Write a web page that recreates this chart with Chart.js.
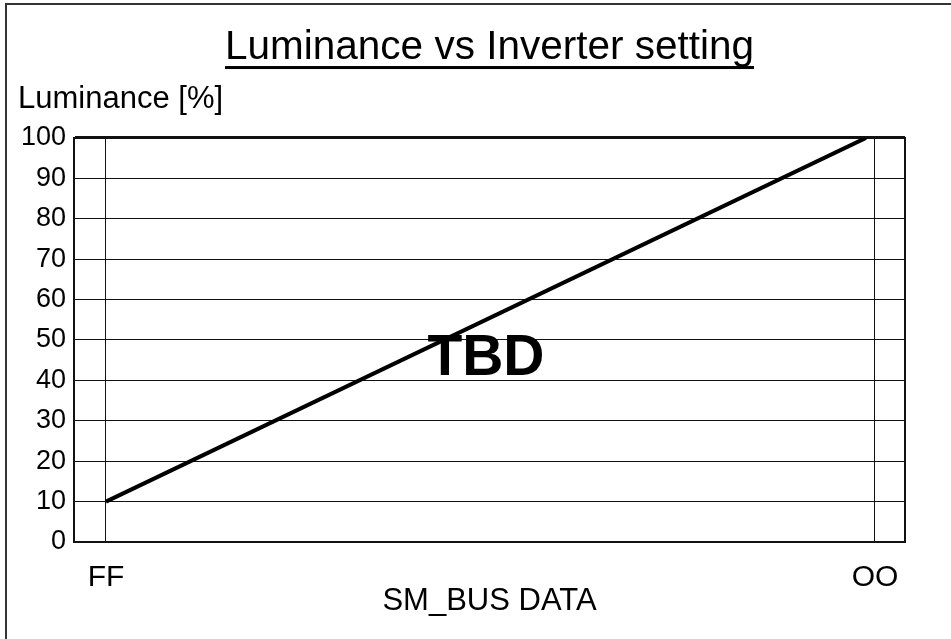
<!DOCTYPE html>
<html>
<head>
<meta charset="utf-8">
<title>Luminance vs Inverter setting</title>
<script src="https://cdn.jsdelivr.net/npm/chart.js@4.4.1/dist/chart.umd.min.js"></script>
<style>
  body { margin: 0; background: #fff; }
  .wrap { position: relative; width: 951px; height: 639px; }
  .frame {
    position: absolute; left: 5px; top: 3px; right: 0; bottom: 0;
    border-top: 2px solid #333; border-left: 2px solid #333;
    pointer-events: none;
  }
  canvas { display: block; }
</style>
</head>
<body>
<div class="wrap">
  <canvas id="chartLum" width="951" height="639"></canvas>
  <div class="frame"></div>
</div>
<script>
// data
const busTicks = [255, 0];
const busTickLabels = ["FF", "OO"];
const busData = [255, 3];
const luminance = [10, 100];
const tbdNote = { x: 129, y: 45.3, text: "TBD" };

const FONT = "'Liberation Sans', Arial, Helvetica, sans-serif";
const INK = "#111";
const titleSize = 40.5;
const titlePad = { top: 23.7, bottom: 8.5 };

// underline under the chart title
const titleUnderline = {
  id: "titleUnderline",
  afterDraw(chart) {
    const tb = chart.titleBlock;
    if (!tb) return;
    const ctx = chart.ctx;
    ctx.save();
    ctx.font = titleSize + "px " + FONT;
    const w = ctx.measureText(tb.options.text).width;
    const cx = (tb.left + tb.right) / 2;
    const mid = tb.top + titlePad.top + titleSize * 1.2 / 2;
    const y = mid + titleSize * 0.3465 + 5.5;
    ctx.fillStyle = "#000";
    ctx.fillRect(cx - w / 2, y - 1.5, w, 3);
    ctx.restore();
  }
};

// "TBD" note in the middle of the plot
const tbdLabel = {
  id: "tbdLabel",
  afterDatasetsDraw(chart) {
    const { ctx, scales } = chart;
    ctx.save();
    ctx.font = "bold 57px " + FONT;
    ctx.fillStyle = "#000";
    ctx.textAlign = "center";
    ctx.textBaseline = "middle";
    ctx.fillText(tbdNote.text, scales.x.getPixelForValue(tbdNote.x), scales.y.getPixelForValue(tbdNote.y));
    ctx.restore();
  }
};

new Chart(document.getElementById("chartLum"), {
  type: "line",
  data: {
    datasets: [{
      data: busData.map((x, i) => ({ x: x, y: luminance[i] })),
      borderColor: "#000",
      borderWidth: 4,
      pointRadius: 0,
      tension: 0,
      fill: false
    }]
  },
  options: {
    responsive: false,
    animation: false,
    layout: { padding: { left: 18, top: 0, right: 0, bottom: 0 } },
    plugins: {
      legend: { display: false },
      tooltip: { enabled: false },
      title: {
        display: true,
        text: "Luminance vs Inverter setting",
        fullSize: false,
        color: "#000",
        font: { family: FONT, size: titleSize, weight: "normal", lineHeight: 1.2 },
        padding: titlePad
      },
      subtitle: {
        display: true,
        text: "Luminance [%]",
        align: "start",
        color: "#000",
        font: { family: FONT, size: 31, weight: "normal", lineHeight: 1.2 },
        padding: { top: 0, bottom: 19.9 }
      }
    },
    scales: {
      x: {
        type: "linear",
        reverse: true,
        min: -9.95,
        max: 265.6,
        afterBuildTicks: s => { s.ticks = busTicks.map(v => ({ value: v })); },
        afterFit: s => { s.height = 97; },
        ticks: {
          color: "#000",
          padding: 21,
          maxRotation: 0,
          autoSkip: false,
          font: { family: FONT, size: 30, lineHeight: 1 },
          callback: v => busTickLabels[busTicks.indexOf(v)]
        },
        grid: { color: INK, lineWidth: 1, drawTicks: false },
        border: { display: true, color: INK, width: 2 },
        title: {
          display: true,
          text: "SM_BUS DATA",
          color: "#000",
          font: { family: FONT, size: 31, lineHeight: 1 },
          padding: { top: 0, bottom: 22 }
        }
      },
      y: {
        min: 0,
        max: 100,
        afterFit: s => { s.width = 56; },
        ticks: {
          stepSize: 10,
          color: "#000",
          padding: 8,
          font: { family: FONT, size: 27, lineHeight: 1 }
        },
        grid: {
          color: INK,
          lineWidth: c => (c.tick && c.tick.value === 100 ? 3 : 1),
          drawTicks: false
        },
        border: { display: true, color: INK, width: 2 }
      },
      y2: {
        position: "right",
        display: true,
        afterFit: s => { s.width = 46; },
        ticks: { display: false },
        grid: { display: false, drawTicks: false },
        border: { display: true, color: INK, width: 2 }
      }
    }
  },
  plugins: [titleUnderline, tbdLabel]
});
</script>
</body>
</html>
